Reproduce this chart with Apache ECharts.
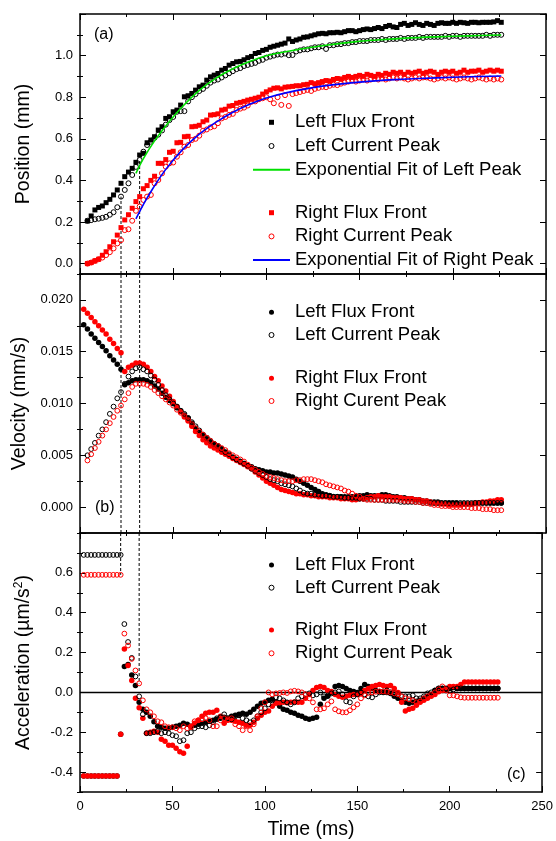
<!DOCTYPE html>
<html><head><meta charset="utf-8">
<script src="https://cdn.jsdelivr.net/npm/echarts@6/dist/echarts.min.js"></script>
<style>html,body{margin:0;padding:0;background:#fff}#c{width:556px;height:841px}</style>
</head><body><div id="c"></div>
<script>
// ---------- data ----------
const T = [2,4,6,8,10,12,14,16,18,20, 22,24,26,28,30,32,34,36,38,40, 42,44,46,48,50,52,54,56,58,60,
  62,64,66,68,70,72,74,76,78,80, 82,84,86,88,90,92,94,96,98,100, 102,104,106,108,110,112,114,116,118,120,
  122,124,126,128,130,132,134,136,138,140, 142,144,146,148,150,152,154,156,158,160, 162,164,166,168,170,172,174,176,178,180,
  182,184,186,188,190,192,194,196,198,200, 202,204,206,208,210,212,214,216,218,220, 222,224,226];

// (a) Position (mm)
const posLeftFront = [
  null,0.205,0.229,0.258,0.270,0.277,0.293,0.309,0.330,0.354,
  0.386,0.418,0.440,0.458,0.487,0.522,0.530,0.581,0.594,0.610,
  0.642,0.658,0.698,0.706,0.730,0.738,0.762,0.802,0.807,0.818,
  0.834,0.850,0.858,0.882,0.898,0.906,0.914,0.930,0.938,0.954,
  0.962,0.970,0.972,0.980,0.990,0.996,1.010,1.015,1.025,1.030,
  1.040,1.045,1.050,1.055,1.060,1.080,1.068,1.075,1.080,1.088,
  1.090,1.095,1.100,1.105,1.107,1.105,1.110,1.110,1.112,1.110,
  1.115,1.120,1.120,1.115,1.120,1.125,1.128,1.125,1.130,1.135,
  1.130,1.140,1.145,1.138,1.135,1.150,1.155,1.145,1.150,1.158,
  1.150,1.145,1.155,1.150,1.145,1.155,1.158,1.155,1.155,1.160,
  1.155,1.160,1.158,1.155,1.160,1.160,1.158,1.160,1.160,1.160,
  1.162,1.168,1.160];
const posLeftPeak = [
  null,0.206,0.209,0.213,0.216,0.220,0.225,0.235,0.247,0.271,
  0.322,0.354,0.386,0.426,0.465,0.498,0.538,0.570,0.586,0.605,
  0.620,0.640,0.668,0.690,0.705,0.730,0.733,0.733,0.780,0.800,
  0.815,0.830,0.840,0.855,0.870,0.880,0.885,0.895,0.905,0.915,
  0.925,0.935,0.940,0.950,0.955,0.960,0.965,0.975,0.980,0.990,
  0.995,1.000,1.005,1.005,1.010,1.002,1.003,1.020,1.025,1.030,
  1.030,1.035,1.040,1.040,1.045,1.032,1.050,1.050,1.055,1.055,
  1.060,1.060,1.065,1.065,1.070,1.070,1.070,1.075,1.075,1.075,
  1.080,1.075,1.080,1.080,1.080,1.085,1.080,1.085,1.085,1.085,
  1.090,1.085,1.090,1.090,1.090,1.090,1.090,1.095,1.090,1.095,
  1.095,1.090,1.095,1.095,1.095,1.095,1.095,1.095,1.100,1.095,
  1.100,1.100,1.100];
const posRightFront = [
  null,0.000,0.005,0.013,0.021,0.040,0.057,0.081,0.105,0.137,
  0.173,0.210,0.235,0.266,0.298,0.322,0.360,0.375,0.400,0.420,
  0.482,0.482,0.500,0.535,0.540,0.581,0.583,0.610,0.612,0.658,
  0.660,0.665,0.682,0.690,0.714,0.716,0.720,0.738,0.742,0.757,
  0.760,0.771,0.775,0.780,0.786,0.790,0.795,0.800,0.815,0.826,
  0.835,0.843,0.845,0.840,0.848,0.850,0.852,0.855,0.855,0.860,
  0.862,0.870,0.865,0.870,0.875,0.880,0.878,0.885,0.890,0.888,
  0.895,0.900,0.895,0.900,0.905,0.900,0.910,0.905,0.900,0.910,
  0.905,0.915,0.910,0.920,0.915,0.920,0.910,0.920,0.915,0.920,
  0.925,0.915,0.920,0.925,0.920,0.910,0.920,0.925,0.920,0.925,
  0.915,0.920,0.930,0.920,0.925,0.925,0.930,0.920,0.925,0.930,
  0.925,0.930,0.925];
const posRightPeak = [
  null,0.000,0.005,0.013,0.021,0.029,0.041,0.055,0.073,0.097,
  0.113,0.161,0.165,0.206,0.254,0.274,0.306,0.322,0.330,0.386,
  0.402,0.434,0.466,0.482,0.486,0.514,0.535,0.562,0.570,0.594,
  0.600,0.615,0.639,0.645,0.655,0.660,0.675,0.698,0.705,0.715,
  0.720,0.738,0.745,0.750,0.760,0.778,0.780,0.790,0.795,0.800,
  0.790,0.771,0.800,0.763,0.810,0.758,0.815,0.820,0.825,0.830,
  0.835,0.830,0.840,0.845,0.850,0.848,0.855,0.860,0.858,0.865,
  0.870,0.875,0.880,0.875,0.880,0.885,0.880,0.885,0.890,0.885,
  0.890,0.885,0.890,0.895,0.890,0.895,0.890,0.885,0.890,0.895,
  0.890,0.895,0.895,0.890,0.885,0.890,0.895,0.890,0.895,0.890,
  0.885,0.890,0.895,0.890,0.885,0.890,0.895,0.890,0.885,0.890,
  0.885,0.890,0.885];
const fitLeftT = [30,34,40,46,55,64,73,82,91,100,111,129,147,159,173,191,209,226];
const fitLeftV = [0.434,0.505,0.590,0.662,0.755,0.833,0.892,0.937,0.972,0.999,1.020,1.046,1.066,1.075,1.083,1.090,1.095,1.099];
const fitRightT = [30,35,39,46,55,64,73,82,91,100,111,129,147,161,173,191,209,226];
const fitRightV = [0.215,0.300,0.360,0.453,0.548,0.622,0.680,0.728,0.766,0.796,0.822,0.852,0.870,0.880,0.886,0.893,0.898,0.902];

// (b) Velocity (mm/s)
const velLeftFront = [
  0.0176,0.0172,0.0167,0.0163,0.0159,0.0155,0.0151,0.0146,0.0142,0.0138,
  0.0133,0.0118,0.0120,0.0122,0.0123,0.0123,0.0123,0.0122,0.0120,0.0117,
  0.0114,0.0110,0.0106,0.0103,0.0100,0.0096,0.0093,0.0089,0.0086,0.0081,
  0.0076,0.0072,0.0069,0.0066,0.0063,0.0061,0.0059,0.0056,0.0053,0.0050,
  0.0048,0.0046,0.0044,0.0042,0.0040,0.0039,0.0037,0.0036,0.0035,0.0034,
  0.0034,0.0033,0.0033,0.0032,0.0031,0.0030,0.0029,0.0027,0.0025,0.0023,
  0.0021,0.0019,0.0017,0.0015,0.0013,0.0012,0.0011,0.0010,0.0010,0.0010,
  0.0010,0.0010,0.0010,0.0010,0.0011,0.0011,0.0012,0.0011,0.0011,0.0011,
  0.0012,0.0012,0.0011,0.0010,0.0010,0.0009,0.0009,0.0008,0.0008,0.0007,
  0.0007,0.0006,0.0006,0.0005,0.0005,0.0005,0.0004,0.0004,0.0004,0.0004,
  0.0004,0.0003,0.0003,0.0003,0.0003,0.0004,0.0004,0.0004,0.0004,0.0004,
  0.0004,0.0004,0.0004];
const velLeftPeak = [
  null,0.0050,0.0056,0.0062,0.0069,0.0075,0.0082,0.0090,0.0097,0.0105,
  0.0111,0.0119,0.0126,0.0131,0.0134,0.0135,0.0133,0.0131,0.0127,0.0123,
  0.0118,0.0113,0.0108,0.0104,0.0100,0.0097,0.0093,0.0090,0.0086,0.0082,
  0.0078,0.0074,0.0070,0.0067,0.0064,0.0061,0.0059,0.0056,0.0053,0.0051,
  0.0048,0.0046,0.0044,0.0042,0.0040,0.0037,0.0035,0.0033,0.0031,0.0029,
  0.0027,0.0026,0.0025,0.0023,0.0022,0.0021,0.0020,0.0018,0.0016,0.0014,
  0.0013,0.0013,0.0012,0.0012,0.0011,0.0011,0.0011,0.0010,0.0010,0.0010,
  0.0009,0.0009,0.0009,0.0009,0.0008,0.0008,0.0008,0.0008,0.0007,0.0007,
  0.0007,0.0006,0.0006,0.0006,0.0006,0.0005,0.0005,0.0005,0.0005,0.0005,
  0.0005,0.0004,0.0004,0.0004,0.0004,0.0004,0.0004,0.0004,0.0004,0.0004,
  0.0004,0.0004,0.0004,0.0004,0.0004,0.0004,0.0004,0.0004,0.0004,0.0004,
  0.0004,0.0004,0.0004];
const velRightFront = [
  0.0191,0.0187,0.0183,0.0179,0.0175,0.0171,0.0167,0.0162,0.0158,0.0153,
  0.0149,0.0131,0.0135,0.0137,0.0139,0.0139,0.0138,0.0135,0.0131,0.0126,
  0.0122,0.0117,0.0112,0.0107,0.0102,0.0097,0.0092,0.0087,0.0083,0.0078,
  0.0073,0.0069,0.0065,0.0062,0.0059,0.0057,0.0055,0.0053,0.0051,0.0049,
  0.0047,0.0045,0.0043,0.0041,0.0039,0.0037,0.0034,0.0031,0.0028,0.0025,
  0.0023,0.0021,0.0019,0.0017,0.0016,0.0015,0.0014,0.0013,0.0013,0.0012,
  0.0012,0.0011,0.0011,0.0010,0.0010,0.0010,0.0009,0.0009,0.0009,0.0008,
  0.0008,0.0008,0.0007,0.0007,0.0008,0.0008,0.0009,0.0010,0.0010,0.0011,
  0.0010,0.0010,0.0010,0.0009,0.0009,0.0009,0.0008,0.0008,0.0008,0.0007,
  0.0007,0.0006,0.0006,0.0005,0.0004,0.0004,0.0003,0.0003,0.0002,0.0002,
  0.0002,0.0002,0.0003,0.0003,0.0003,0.0004,0.0004,0.0005,0.0005,0.0006,
  0.0006,0.0007,0.0007];
const velRightPeak = [
  null,0.0045,0.0051,0.0057,0.0063,0.0069,0.0075,0.0081,0.0087,0.0093,
  0.0098,0.0104,0.0110,0.0116,0.0119,0.0119,0.0119,0.0118,0.0116,0.0113,
  0.0110,0.0107,0.0104,0.0101,0.0098,0.0094,0.0091,0.0088,0.0084,0.0080,
  0.0076,0.0073,0.0070,0.0067,0.0064,0.0061,0.0059,0.0057,0.0055,0.0052,
  0.0050,0.0048,0.0046,0.0044,0.0041,0.0038,0.0036,0.0034,0.0032,0.0030,
  0.0029,0.0028,0.0027,0.0026,0.0025,0.0025,0.0025,0.0026,0.0026,0.0027,
  0.0027,0.0027,0.0026,0.0025,0.0024,0.0022,0.0021,0.0020,0.0019,0.0018,
  0.0016,0.0015,0.0013,0.0011,0.0010,0.0008,0.0007,0.0007,0.0007,0.0007,
  0.0007,0.0007,0.0007,0.0007,0.0007,0.0007,0.0006,0.0006,0.0006,0.0005,
  0.0005,0.0004,0.0004,0.0003,0.0002,0.0002,0.0001,0.0001,0.0001,0.0000,
  0.0000,0.0000,0.0000,0.0000,-0.0001,-0.0001,-0.0001,-0.0002,-0.0002,-0.0002,
  -0.0003,-0.0003,-0.0003];

// (c) Acceleration (µm/s²)
const accLeftFront = [
  -0.42,-0.42,-0.42,-0.42,-0.42,-0.42,-0.42,-0.42,-0.42,-0.42,
  -0.210,0.130,0.140,0.087,0.035,-0.050,-0.085,-0.100,-0.120,-0.148,
  -0.170,-0.175,-0.180,-0.180,-0.175,-0.170,-0.165,-0.155,-0.160,-0.170,
  -0.165,-0.160,-0.155,-0.150,-0.145,-0.140,-0.135,-0.130,-0.125,-0.130,
  -0.120,-0.115,-0.110,-0.105,-0.110,-0.100,-0.085,-0.070,-0.055,-0.050,
  -0.040,-0.035,-0.050,-0.070,-0.085,-0.090,-0.100,-0.105,-0.115,-0.120,
  -0.130,-0.135,-0.130,-0.125,-0.060,-0.030,-0.020,0.000,0.030,0.035,
  0.030,0.020,0.010,0.005,0.000,0.020,0.040,0.030,0.020,0.010,
  0.005,0.000,0.000,-0.005,-0.020,-0.030,-0.040,-0.050,-0.055,-0.050,
  -0.045,-0.040,-0.030,-0.020,-0.010,0.010,0.020,0.020,0.010,0.020,
  0.025,0.020,0.020,0.020,0.020,0.020,0.020,0.020,0.020,0.020,
  0.020,0.020,0.020];
const accLeftPeak = [
  0.69,0.69,0.69,0.69,0.69,0.69,0.69,0.69,0.69,0.69,
  0.690,0.343,0.253,0.173,0.080,-0.020,-0.110,-0.205,-0.205,-0.200,
  -0.195,-0.205,-0.200,-0.205,-0.215,-0.220,-0.245,-0.240,-0.205,-0.200,
  -0.180,-0.170,-0.170,-0.175,-0.165,-0.150,-0.130,-0.125,-0.110,-0.130,
  -0.135,-0.120,-0.115,-0.130,-0.140,-0.150,-0.140,-0.120,-0.100,-0.080,
  -0.060,-0.040,-0.025,-0.030,-0.040,-0.050,-0.060,-0.050,-0.030,-0.020,
  -0.010,-0.005,-0.015,-0.010,0.000,-0.020,-0.015,-0.005,0.000,0.005,
  -0.010,-0.045,-0.050,-0.020,-0.010,0.000,-0.010,-0.020,-0.025,-0.010,
  0.000,0.005,0.010,0.000,-0.005,-0.010,-0.020,-0.020,-0.020,-0.015,
  -0.030,-0.030,-0.020,-0.005,0.000,0.010,0.020,0.020,0.020,0.010,
  0.015,0.020,0.020,0.020,0.020,0.020,0.020,0.020,0.020,0.020,
  0.020,0.020,0.020];
const accRightFront = [
  -0.42,-0.42,-0.42,-0.42,-0.42,-0.42,-0.42,-0.42,-0.42,-0.42,
  -0.210,0.218,0.135,0.060,-0.030,-0.077,-0.130,-0.205,-0.200,-0.195,
  -0.200,-0.235,-0.245,-0.265,-0.265,-0.280,-0.298,-0.305,-0.270,-0.170,
  -0.155,-0.140,-0.120,-0.105,-0.100,-0.100,-0.090,-0.120,-0.155,-0.140,
  -0.140,-0.145,-0.150,-0.155,-0.165,-0.165,-0.150,-0.130,-0.115,-0.100,
  -0.093,-0.070,-0.055,-0.052,-0.050,-0.052,-0.050,-0.048,-0.050,-0.050,
  -0.030,-0.010,0.010,0.025,0.030,0.025,0.010,0.005,-0.010,-0.020,
  -0.025,-0.020,-0.015,-0.010,-0.010,-0.005,0.010,0.020,0.030,0.035,
  0.040,0.035,0.030,0.035,0.020,0.000,-0.050,-0.094,-0.085,-0.080,
  -0.065,-0.050,-0.040,-0.030,-0.020,-0.010,0.003,0.010,0.020,0.030,
  0.030,0.030,0.040,0.052,0.052,0.052,0.052,0.052,0.052,0.052,
  0.052,0.052,0.052];
const accRightPeak = [
  0.59,0.59,0.59,0.59,0.59,0.59,0.59,0.59,0.59,0.59,
  0.590,0.295,0.235,0.168,0.110,0.045,-0.040,-0.085,-0.100,-0.120,
  -0.145,-0.150,-0.170,-0.175,-0.175,-0.180,-0.190,-0.170,-0.180,-0.175,
  -0.145,-0.140,-0.135,-0.130,-0.140,-0.170,-0.170,-0.140,-0.130,-0.135,
  -0.130,-0.160,-0.170,-0.190,-0.170,-0.190,-0.160,-0.120,-0.080,-0.050,
  0.000,-0.010,-0.005,-0.003,0.000,-0.003,0.005,0.008,0.005,0.000,
  -0.010,-0.030,-0.050,-0.085,-0.085,-0.080,-0.060,-0.045,-0.085,-0.095,
  -0.100,-0.100,-0.090,-0.075,-0.060,-0.030,-0.015,-0.003,0.000,0.003,
  0.005,0.005,0.003,0.000,-0.005,-0.010,-0.020,-0.030,-0.035,-0.040,
  -0.050,-0.045,-0.030,-0.020,-0.010,0.000,0.015,0.030,0.010,-0.015,
  -0.015,-0.020,-0.025,-0.027,-0.027,-0.027,-0.027,-0.027,-0.027,-0.027,
  -0.027,-0.027,-0.027];

// guide lines (dashed) and zero line
const guideT = [22, 32];
const guidePosTop = [0.322, 0.498];
const guideAccBottom = [0.59, 0.045];
const zeroLineT = [0, 250];

// axes
const xRange = [0, 250];
const posRange = [-0.05, 1.2];
const posMajor = [0, 0.2, 0.4, 0.6, 0.8, 1.0, 1.2];
const posMinor = [0.1, 0.3, 0.5, 0.7, 0.9, 1.1];
const posLabels = [0, 0.2, 0.4, 0.6, 0.8, 1.0];
const velRange = [-0.0025, 0.0225];
const velMajor = [0, 0.005, 0.010, 0.015, 0.020];
const velMinor = [-0.0025, 0.0025, 0.0075, 0.0125, 0.0175, 0.0225];
const velLabels = [0, 0.005, 0.010, 0.015, 0.020];
const accRange = [-0.5, 0.8];
const accMajor = [-0.4, -0.2, 0, 0.2, 0.4, 0.6, 0.8];
const accMinor = [-0.5, -0.3, -0.1, 0.1, 0.3, 0.5, 0.7];
const accLabels = [-0.4, -0.2, 0, 0.2, 0.4, 0.6];

// ---------- chart ----------
const FONT = 'Liberation Sans, Arial, Helvetica, sans-serif';
const RED = '#ff0000', BLACK = '#000000', GREEN = '#00e000', BLUE = '#0000ff';
const chart = echarts.init(document.getElementById('c'), null, {renderer: 'canvas'});

const pairs = (arr) => T.map((t, i) => arr[i] == null ? null : [t, arr[i]]).filter(Boolean);
const zip = (xs, ys) => xs.map((x, i) => [x, ys[i]]);

const grids = [
  {left: 80, right: 10, top: 14, height: 260},
  {left: 80, right: 10, top: 274, height: 259},
  {left: 80, right: 10, top: 533, height: 260}
];

function xAxesFor(g, showLabels) {
  const base = {
    type: 'value', gridIndex: g, min: xRange[0], max: xRange[1], interval: 50,
    splitLine: {show: false},
    axisLine: {show: true, onZero: false, lineStyle: {color: BLACK, width: 1.5}},
    axisTick: {show: true, inside: true, length: 6, lineStyle: {color: BLACK, width: 1}},
    minorTick: {show: true, splitNumber: 2, length: 3, lineStyle: {color: BLACK, width: 1}}
  };
  return [
    Object.assign({}, base, {
      position: 'bottom',
      axisLabel: {show: showLabels, margin: 8, fontSize: 13, color: BLACK, fontFamily: FONT},
      name: showLabels ? 'Time (ms)' : '', nameLocation: 'middle', nameGap: 28,
      nameTextStyle: {fontSize: 19.5, color: BLACK, fontFamily: FONT}
    }),
    Object.assign({}, base, {position: 'top', axisLabel: {show: false}})
  ];
}

function yAxesFor(g, range, major, minor, labels, digits, name, nameRich) {
  const base = {
    type: 'value', gridIndex: g, min: range[0], max: range[1],
    splitLine: {show: false},
    axisLine: {show: true, onZero: false, lineStyle: {color: BLACK, width: 1.5}}
  };
  const majorTick = {show: true, inside: true, length: 6, customValues: major, lineStyle: {color: BLACK, width: 1}};
  const minorTickCfg = {show: true, inside: true, length: 3, customValues: minor, lineStyle: {color: BLACK, width: 1}};
  return [
    Object.assign({}, base, {
      position: 'left', axisTick: majorTick,
      axisLabel: {show: true, customValues: labels, margin: 7, fontSize: 13, color: BLACK, fontFamily: FONT,
        formatter: (v) => Number(v).toFixed(digits)},
      name: name, nameLocation: 'middle', nameGap: 46, nameRotate: 90,
      nameTextStyle: {fontSize: 19.5, color: BLACK, fontFamily: FONT, rich: nameRich || {}}
    }),
    Object.assign({}, base, {position: 'left', axisLine: {show: false}, axisTick: minorTickCfg, axisLabel: {show: false}}),
    Object.assign({}, base, {position: 'right', axisTick: majorTick, axisLabel: {show: false}}),
    Object.assign({}, base, {position: 'right', axisLine: {show: false}, axisTick: minorTickCfg, axisLabel: {show: false}})
  ];
}

const xAxis = [].concat(xAxesFor(0, false), xAxesFor(1, false), xAxesFor(2, true));
const yAxis = [].concat(
  yAxesFor(0, posRange, posMajor, posMinor, posLabels, 1, 'Position (mm)'),
  yAxesFor(1, velRange, velMajor, velMinor, velLabels, 3, 'Velocity (mm/s)'),
  yAxesFor(2, accRange, accMajor, accMinor, accLabels, 1, 'Acceleration (µm/s{sup|2})',
    {sup: {fontSize: 12, verticalAlign: 'top', fontFamily: FONT, color: BLACK, padding: [0, 0, 9, 0]}})
);

function filled(name, arr, color, symbol, xi, yi, size) {
  return {type: 'scatter', name, data: pairs(arr), xAxisIndex: xi, yAxisIndex: yi,
    symbol, symbolSize: size, itemStyle: {color, opacity: 1}, silent: true, z: 3};
}
function hollow(name, arr, color, xi, yi, size) {
  return {type: 'scatter', name, data: pairs(arr), xAxisIndex: xi, yAxisIndex: yi,
    symbol: 'circle', symbolSize: size, itemStyle: {color: 'rgba(255,255,255,0)', borderColor: color, borderWidth: 1, opacity: 1},
    silent: true, z: 4};
}
function guide(data, xi, yi) {
  return {type: 'line', data, xAxisIndex: xi, yAxisIndex: yi, symbol: 'none', silent: true, z: 2,
    lineStyle: {color: BLACK, width: 1, type: [3, 2]}};
}

const series = [
  // (a)
  filled('a|Left Flux Front', posLeftFront, BLACK, 'rect', 0, 0, 5),
  hollow('a|Left Current Peak', posLeftPeak, BLACK, 0, 0, 5),
  {type: 'line', name: 'a|Exponential Fit of Left Peak', data: zip(fitLeftT, fitLeftV), xAxisIndex: 0, yAxisIndex: 0,
    smooth: 0.4, symbol: 'none', silent: true, z: 5, color: GREEN, lineStyle: {color: GREEN, width: 1.6}},
  filled('a|Right Flux Front', posRightFront, RED, 'rect', 0, 0, 5),
  hollow('a|Right Current Peak', posRightPeak, RED, 0, 0, 5),
  {type: 'line', name: 'a|Exponential Fit of Right Peak', data: zip(fitRightT, fitRightV), xAxisIndex: 0, yAxisIndex: 0,
    smooth: 0.4, symbol: 'none', silent: true, z: 5, color: BLUE, lineStyle: {color: BLUE, width: 1.6}},
  guide([[guideT[0], posRange[0]], [guideT[0], guidePosTop[0]]], 0, 0),
  guide([[guideT[1], posRange[0]], [guideT[1], guidePosTop[1]]], 0, 0),
  // (b)
  filled('b|Left Flux Front', velLeftFront, BLACK, 'circle', 2, 4, 5.5),
  hollow('b|Left Current Peak', velLeftPeak, BLACK, 2, 4, 4.8),
  filled('b|Right Flux Front', velRightFront, RED, 'circle', 2, 4, 5.5),
  hollow('b|Right Curent Peak', velRightPeak, RED, 2, 4, 4.8),
  guide([[guideT[0], velRange[0]], [guideT[0], velRange[1]]], 2, 4),
  guide([[guideT[1], velRange[0]], [guideT[1], velRange[1]]], 2, 4),
  // (c)
  {type: 'line', data: zeroLineT.map(t => [t, 0]), xAxisIndex: 4, yAxisIndex: 8, symbol: 'none', silent: true, z: 2,
    lineStyle: {color: BLACK, width: 1.5}},
  filled('c|Left Flux Front', accLeftFront, BLACK, 'circle', 4, 8, 5.5),
  hollow('c|Left Current Peak', accLeftPeak, BLACK, 4, 8, 4.8),
  filled('c|Right Flux Front', accRightFront, RED, 'circle', 4, 8, 5.5),
  hollow('c|Right Current Peak', accRightPeak, RED, 4, 8, 4.8),
  guide([[guideT[0], accRange[1]], [guideT[0], guideAccBottom[0]]], 4, 8),
  guide([[guideT[1], accRange[1]], [guideT[1], guideAccBottom[1]]], 4, 8)
];

const SQUARE = 'path://M0 0H10V10H0Z';
const DOT = 'path://M10 5A5 5 0 1 1 0 5A5 5 0 1 1 10 5Z';
const LINEICON = 'path://M0 0H37V2H0Z';
const legendText = {fontSize: 18.5, lineHeight: 20, color: BLACK, fontFamily: FONT};
// The legend box is aligned on its drawn content: boxes whose icons are all 5px markers
// start at the marker, boxes with a fit line start at the line.
function legendBox(left, top, gap, data) {
  return {left, top, orient: 'vertical', itemWidth: 37, itemHeight: 5, itemGap: gap, padding: 0,
    selectedMode: false, data, textStyle: legendText, formatter: (n) => n.split('|')[1]};
}
const ring = (name, color) => ({name, icon: DOT, itemStyle: {color: 'rgba(255,255,255,0)', borderColor: color, borderWidth: 1}});
const dot = (name, color) => ({name, icon: DOT, itemStyle: {color}});
const legend = [
  legendBox(253, 112.3, 3.7, [{name: 'a|Left Flux Front', icon: SQUARE, itemStyle: {color: BLACK}}, ring('a|Left Current Peak', BLACK),
    {name: 'a|Exponential Fit of Left Peak', icon: LINEICON, itemStyle: {color: GREEN}}]),
  legendBox(253, 202.7, 3.7, [{name: 'a|Right Flux Front', icon: SQUARE, itemStyle: {color: RED}}, ring('a|Right Current Peak', RED),
    {name: 'a|Exponential Fit of Right Peak', icon: LINEICON, itemStyle: {color: BLUE}}]),
  legendBox(268.5, 302.3, 2.7, [dot('b|Left Flux Front', BLACK), ring('b|Left Current Peak', BLACK)]),
  legendBox(268.5, 368.3, 2.7, [dot('b|Right Flux Front', RED), ring('b|Right Curent Peak', RED)]),
  legendBox(268.5, 555, 2.7, [dot('c|Left Flux Front', BLACK), ring('c|Left Current Peak', BLACK)]),
  legendBox(268.5, 620, 3.3, [dot('c|Right Flux Front', RED), ring('c|Right Current Peak', RED)])
];

const panelTag = (text, left, top) => ({type: 'text', left, top, silent: true,
  style: {text, fontSize: 16, fontFamily: FONT, fill: BLACK}});

chart.setOption({
  animation: false,
  backgroundColor: '#ffffff',
  textStyle: {fontFamily: FONT},
  grid: grids,
  xAxis, yAxis, series, legend,
  graphic: [panelTag('(a)', 94, 27), panelTag('(b)', 95, 500), panelTag('(c)', 507, 767)]
});
</script></body></html>
